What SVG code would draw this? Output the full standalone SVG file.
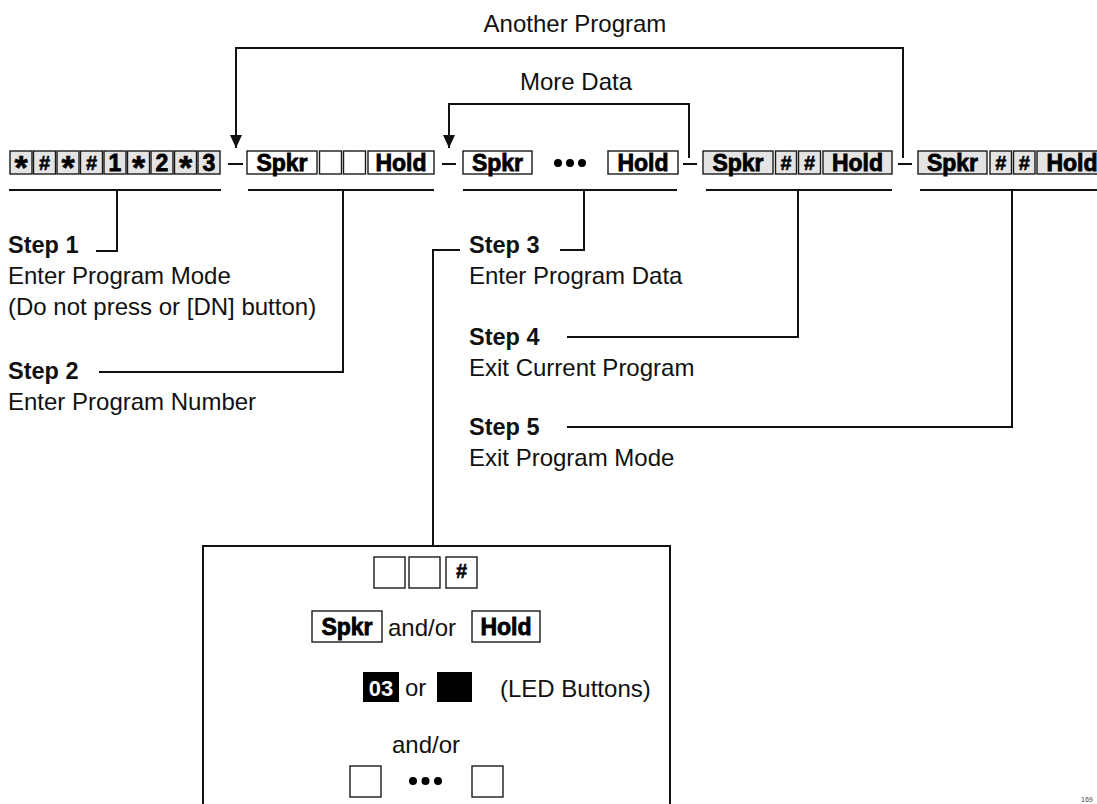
<svg xmlns="http://www.w3.org/2000/svg" width="1097" height="804" viewBox="0 0 1097 804">
<style>
.g{fill:#e4e4e4;stroke:#1a1a1a;stroke-width:1.4}
.w{fill:#fff;stroke:#1a1a1a;stroke-width:1.4}
.blk{fill:#000}
.kt{font-family:"Liberation Sans",Arial,sans-serif;font-weight:bold;font-size:23px;text-anchor:middle;fill:#000;stroke:#000;stroke-width:0.8}
.ks{font-family:"Liberation Sans",Arial,sans-serif;font-weight:bold;font-size:20px;text-anchor:middle;fill:#000;stroke:#000;stroke-width:0.5}
.ka{font-family:"Liberation Sans",Arial,sans-serif;font-weight:bold;font-size:34px;text-anchor:middle;fill:#000;stroke:#000;stroke-width:0.6}
.t{font-family:"Liberation Sans",Arial,sans-serif;font-size:24px;fill:#111}
.tb{font-family:"Liberation Sans",Arial,sans-serif;font-size:23.5px;font-weight:bold;fill:#111}
.c{text-anchor:middle}
.ln{fill:none;stroke:#111;stroke-width:2}
.ul{fill:none;stroke:#111;stroke-width:2.2}
</style>
<defs>
<marker id="ad" markerWidth="12" markerHeight="14" refX="6" refY="13" markerUnits="userSpaceOnUse" viewBox="0 0 12 14">
<path d="M0,0 L12,0 L6,13 Z" fill="#111"/>
</marker>
</defs>

<g id="labels">
<text class="t c" x="575" y="32">Another Program</text>
<text class="t c" x="576" y="90">More Data</text>
</g>

<g id="connectors">
<path class="ln" d="M903,158 V48 H236 V148" marker-end="url(#ad)"/>
<path class="ln" d="M689,158 V104 H449 V148" marker-end="url(#ad)"/>
<path class="ln" d="M228,164 H243"/>
<path class="ln" d="M442,164 H456"/>
<path class="ln" d="M683,164 H697"/>
<path class="ln" d="M898,164 H912"/>
<path class="ln" d="M117,190 V251 H96"/>
<path class="ln" d="M343,190 V372 H99"/>
<path class="ln" d="M584,190 V250 H560"/>
<path class="ln" d="M460,250 H433 V546"/>
<path class="ln" d="M798,190 V337 H567"/>
<path class="ln" d="M1012,190 V427 H567"/>
</g>

<g id="group1">
<rect class="g" x="10" y="151" width="22" height="23"/>
<rect class="g" x="33.5" y="151" width="22" height="23"/>
<rect class="g" x="57" y="151" width="22" height="23"/>
<rect class="g" x="80.5" y="151" width="22" height="23"/>
<rect class="g" x="104" y="151" width="22" height="23"/>
<rect class="g" x="127.5" y="151" width="22" height="23"/>
<rect class="g" x="151" y="151" width="22" height="23"/>
<rect class="g" x="174.5" y="151" width="22" height="23"/>
<rect class="g" x="198" y="151" width="22" height="23"/>
<text class="ka" x="21" y="179">*</text>
<text class="ks" x="44.5" y="170">#</text>
<text class="ka" x="68" y="179">*</text>
<text class="ks" x="91.5" y="170">#</text>
<text class="kt" x="115" y="170.5">1</text>
<text class="ka" x="138.5" y="179">*</text>
<text class="kt" x="162" y="170.5">2</text>
<text class="ka" x="185.5" y="179">*</text>
<text class="kt" x="209" y="170.5">3</text>
<path class="ul" d="M9,190 H221"/>
</g>

<g id="group2">
<rect class="w" x="247" y="151" width="70" height="23"/>
<rect class="w" x="319.5" y="151" width="22" height="23"/>
<rect class="w" x="343.5" y="151" width="22" height="23"/>
<rect class="w" x="368" y="151" width="66" height="23"/>
<text class="kt" x="282" y="170.5">Spkr</text>
<text class="kt" x="401" y="170.5">Hold</text>
<path class="ul" d="M248,190 H434"/>
</g>

<g id="group3">
<rect class="w" x="463" y="151" width="69" height="23"/>
<rect class="w" x="608" y="151" width="70" height="23"/>
<text class="kt" x="497.5" y="170.5">Spkr</text>
<text class="kt" x="643" y="170.5">Hold</text>
<circle class="blk" cx="558" cy="163" r="4"/>
<circle class="blk" cx="570" cy="163" r="4"/>
<circle class="blk" cx="582" cy="163" r="4"/>
<path class="ul" d="M463,190 H677"/>
</g>

<g id="group4">
<rect class="g" x="703" y="151" width="70" height="23"/>
<rect class="g" x="775.5" y="151" width="21" height="23"/>
<rect class="g" x="798.5" y="151" width="22" height="23"/>
<rect class="g" x="823" y="151" width="69" height="23"/>
<text class="kt" x="738" y="170.5">Spkr</text>
<text class="ks" x="786" y="170">#</text>
<text class="ks" x="809.5" y="170">#</text>
<text class="kt" x="857.5" y="170.5">Hold</text>
<path class="ul" d="M706,190 H892"/>
</g>

<g id="group5">
<rect class="g" x="918" y="151" width="69" height="23"/>
<rect class="g" x="990" y="151" width="21.5" height="23"/>
<rect class="g" x="1013.5" y="151" width="21.5" height="23"/>
<rect class="g" x="1037" y="151" width="70" height="23"/>
<text class="kt" x="952.5" y="170.5">Spkr</text>
<text class="ks" x="1000.7" y="170">#</text>
<text class="ks" x="1024.2" y="170">#</text>
<text class="kt" x="1072" y="170.5">Hold</text>
<path class="ul" d="M920,190 H1100"/>
</g>

<g id="step1">
<text class="tb" x="8" y="253">Step 1</text>
<text class="t" x="8" y="284">Enter Program Mode</text>
<text class="t" x="8" y="315">(Do not press or [DN] button)</text>
</g>
<g id="step2">
<text class="tb" x="8" y="379">Step 2</text>
<text class="t" x="8" y="410">Enter Program Number</text>
</g>
<g id="step3">
<text class="tb" x="469" y="253">Step 3</text>
<text class="t" x="469" y="284">Enter Program Data</text>
</g>
<g id="step4">
<text class="tb" x="469" y="345">Step 4</text>
<text class="t" x="469" y="376">Exit Current Program</text>
</g>
<g id="step5">
<text class="tb" x="469" y="435">Step 5</text>
<text class="t" x="469" y="466">Exit Program Mode</text>
</g>

<g id="databox">
<rect x="203" y="546" width="467" height="280" fill="none" stroke="#111" stroke-width="2"/>
<rect class="w" x="374" y="557" width="31" height="31"/>
<rect class="w" x="409" y="557" width="31" height="31"/>
<rect class="w" x="446" y="557" width="31" height="31"/>
<text class="ks" x="461.5" y="578" font-size="16">#</text>
<rect class="w" x="312" y="611" width="70" height="31"/>
<text class="kt" x="347" y="635">Spkr</text>
<text class="t" x="388" y="636">and/or</text>
<rect class="w" x="472" y="611" width="68" height="31"/>
<text class="kt" x="506" y="635">Hold</text>
<rect class="blk" x="363" y="672" width="36" height="30"/>
<text x="381" y="696" font-family="Liberation Sans, Arial, sans-serif" font-size="22" font-weight="bold" fill="#fff" text-anchor="middle">03</text>
<text class="t" x="405" y="696">or</text>
<rect class="blk" x="437" y="672" width="35" height="30"/>
<text class="t" x="500" y="697">(LED Buttons)</text>
<text class="t c" x="426" y="753">and/or</text>
<rect class="w" x="350" y="766" width="31" height="31"/>
<circle class="blk" cx="413" cy="781" r="4"/>
<circle class="blk" cx="425.5" cy="781" r="4"/>
<circle class="blk" cx="438" cy="781" r="4"/>
<rect class="w" x="472" y="766" width="31" height="31"/>
</g>

<text x="1081" y="802" font-family="Liberation Sans, Arial, sans-serif" font-size="7" fill="#444">169</text>
</svg>
